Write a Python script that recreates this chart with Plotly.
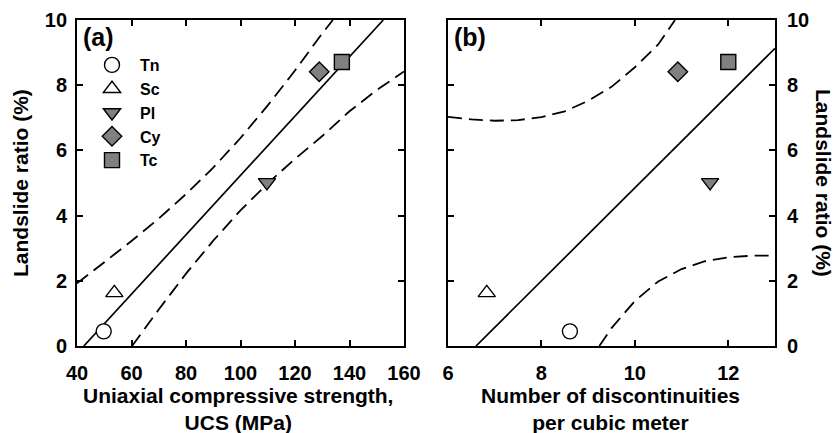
import plotly.graph_objects as go

# ---------------- data ----------------
rock_types = ["Tn", "Sc", "Pl", "Cy", "Tc"]
symbols = ["circle", "triangle-up", "triangle-down", "diamond", "square"]
fills = ["white", "white", "#808080", "#808080", "#808080"]
landslide_ratio = [0.45, 1.63, 5.02, 8.41, 8.71]
ucs_mpa = [49.8, 53.7, 109.7, 128.9, 137.2]
disc_per_m3 = [8.61, 6.83, 11.61, 10.92, 12.0]

# regression line and confidence bands, panel (a)
fit_a_x = [42.5, 152.4]
fit_a_y = [0.0, 10.0]
upper_a_x = [40, 50, 60, 70, 80, 90, 100, 110, 120, 130, 133.9]
upper_a_y = [1.92, 2.56, 3.22, 3.91, 4.66, 5.47, 6.38, 7.38, 8.45, 9.59, 10.0]
lower_a_x = [60.2, 70, 80, 90, 100, 110, 120, 130, 140, 150, 160]
lower_a_y = [0.0, 1.12, 2.22, 3.23, 4.16, 4.99, 5.74, 6.44, 7.20, 7.85, 8.42]

# regression line and confidence bands, panel (b)
fit_b_x = [6.6, 13.0]
fit_b_y = [0.0, 9.13]
upper_b_x = [6.0, 6.5, 7.0, 7.5, 8.0, 8.5, 9.0, 9.5, 10.0, 10.5, 10.86]
upper_b_y = [7.03, 6.95, 6.91, 6.93, 7.02, 7.20, 7.52, 7.95, 8.55, 9.25, 10.0]
lower_b_x = [9.24, 9.5, 10.0, 10.5, 11.0, 11.5, 12.0, 12.5, 13.0]
lower_b_y = [0.0, 0.55, 1.38, 1.98, 2.36, 2.60, 2.72, 2.77, 2.77]

xticks_a = [40, 60, 80, 100, 120, 140, 160]
xticks_b = [6, 8, 10, 12]
yticks = [0, 2, 4, 6, 8, 10]

W, H = 835, 433
FONT = "Arial"

fig = go.Figure()

line_solid = dict(color="black", width=1.7)
line_dash = dict(color="black", width=1.8, dash="14px,7px")

for xs, ys, ln in [(fit_a_x, fit_a_y, line_solid), (upper_a_x, upper_a_y, line_dash),
                   (lower_a_x, lower_a_y, line_dash)]:
    fig.add_trace(go.Scatter(x=xs, y=ys, mode="lines", line=ln, showlegend=False,
                             xaxis="x", yaxis="y", hoverinfo="skip"))
for xs, ys, ln in [(fit_b_x, fit_b_y, line_solid), (upper_b_x, upper_b_y, line_dash),
                   (lower_b_x, lower_b_y, line_dash)]:
    fig.add_trace(go.Scatter(x=xs, y=ys, mode="lines", line=ln, showlegend=False,
                             xaxis="x2", yaxis="y2", hoverinfo="skip"))

for i, name in enumerate(rock_types):
    mk = dict(symbol=symbols[i], size=15, color=fills[i], line=dict(color="black", width=1.4))
    fig.add_trace(go.Scatter(x=[ucs_mpa[i]], y=[landslide_ratio[i]], mode="markers",
                             marker=mk, name=name, legendgroup=name, showlegend=True,
                             xaxis="x", yaxis="y", cliponaxis=False))
    fig.add_trace(go.Scatter(x=[disc_per_m3[i]], y=[landslide_ratio[i]], mode="markers",
                             marker=mk, name=name, legendgroup=name, showlegend=False,
                             xaxis="x2", yaxis="y2", cliponaxis=False))

# plot-area geometry in pixels
ax_l, ax_r = 77, 404
bx_l, bx_r = 448, 775
y_top, y_bot = 20, 346

def px_x(p):
    return p / W

def px_y(p):
    return 1 - p / H

tickfont = dict(family=FONT, size=20, color="black", weight="bold")
axis_common = dict(showline=True, linecolor="black", linewidth=1.8, mirror="ticks",
                   ticks="inside", ticklen=6, tickwidth=1.6, tickcolor="black",
                   showgrid=False, zeroline=False, tickfont=tickfont, automargin=False,
                   fixedrange=True)

fig.update_layout(
    width=W, height=H,
    margin=dict(l=0, r=0, t=0, b=0),
    paper_bgcolor="white", plot_bgcolor="white",
    xaxis=dict(domain=[px_x(ax_l), px_x(ax_r)], range=[40, 160], tickvals=xticks_a,
               anchor="y", ticklabelstandoff=8, **axis_common),
    yaxis=dict(domain=[px_y(y_bot), px_y(y_top)], range=[0, 10], tickvals=yticks,
               anchor="x", ticklabelstandoff=4, **axis_common),
    xaxis2=dict(domain=[px_x(bx_l), px_x(bx_r)], range=[6, 13], tickvals=xticks_b,
                anchor="y2", ticklabelstandoff=8, **axis_common),
    yaxis2=dict(domain=[px_y(y_bot), px_y(y_top)], range=[0, 10], tickvals=yticks,
                anchor="x2", side="right", ticklabelstandoff=6, **axis_common),
    showlegend=True,
    legend=dict(x=px_x(84), y=px_y(48), xanchor="left", yanchor="top",
                bgcolor="rgba(0,0,0,0)", borderwidth=0, tracegroupgap=0,
                font=dict(family=FONT, size=16, color="black", weight="bold"),
                itemwidth=46),
)

title_font = dict(family=FONT, size=21, color="black", weight="bold")
annos = [
    dict(text="(a)", x=px_x(81), y=px_y(21), xanchor="left", yanchor="top",
         font=dict(family=FONT, size=25, color="black", weight="bold")),
    dict(text="(b)", x=px_x(452), y=px_y(21), xanchor="left", yanchor="top",
         font=dict(family=FONT, size=25, color="black", weight="bold")),
    dict(text="Uniaxial compressive strength,<br>UCS (MPa)", x=px_x(238),
         y=px_y(382), xanchor="center", yanchor="top", font=title_font),
    dict(text="Number of discontinuities<br>per cubic meter", x=px_x(610),
         y=px_y(382), xanchor="center", yanchor="top", font=title_font),
    dict(text="Landslide ratio (%)", x=px_x(21), y=px_y((y_top + y_bot) / 2),
         xanchor="center", yanchor="middle", textangle=-90, font=title_font),
    dict(text="Landslide ratio (%)", x=px_x(823), y=px_y((y_top + y_bot) / 2),
         xanchor="center", yanchor="middle", textangle=90, font=title_font),
]
for a in annos:
    a.update(xref="paper", yref="paper", showarrow=False)
fig.update_layout(annotations=annos)

fig.write_html("out.html", config={"displayModeBar": False})
